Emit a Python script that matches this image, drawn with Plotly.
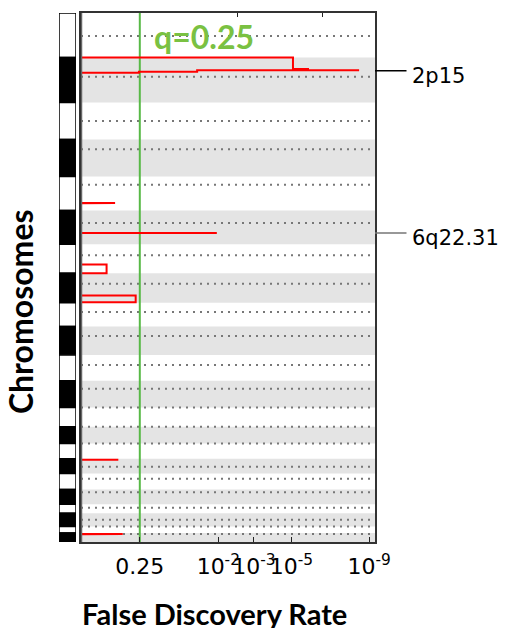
import plotly.graph_objects as go

# ---------------- data ----------------
chrom_names = [str(i) for i in range(1, 23)]
chrom_len_mb = [243, 244, 202, 201, 185, 185, 157, 161, 130, 154, 141, 145,
                105, 91, 83, 81, 87, 81, 49, 71, 36, 49]
centromere_mb = [125, 104, 101, 53, 46, 69, 60, 58, 51, 51, 55, 43,
                 0, 0, 0, 44, 29, 15, 19, 35, 0, 5]

# significance profile: chromosome, position inside chromosome (Mb), score
profile_chrom = [1,
                 2, 2, 2, 2, 2, 2, 2, 2, 2, 2, 2, 2,
                 5, 5, 5, 5,
                 6, 6, 6,
                 7, 7, 7, 7,
                 8, 8, 8, 8,
                 16, 16, 16,
                 22, 22, 22, 22, 22]
profile_pos = [0,
               0, 0, 61, 61.5, 62, 69, 69, 69.3, 77, 77.3, 82.5, 82.8,
               145, 145, 146, 146,
               123, 123.2, 123.4,
               110, 110, 157, 157,
               121, 121, 158, 158,
               5.5, 5.7, 5.9,
               5, 5, 7, 7, 49]
profile_score = [0,
                 0, 7.21, 7.21, 7.72, 7.72, 7.72, 9.46, 3.95, 3.95, 1.97, 1.97, 0,
                 0, 1.16, 1.16, 0,
                 0, 4.62, 0,
                 0, 0.87, 0.87, 0,
                 0, 1.86, 1.86, 0,
                 0, 1.27, 0,
                 0, 1.42, 1.42, 0, 0]

threshold_score = 2.0
threshold_label = "q=0.25"

tick_scores = [2.0, 4.67, 5.88, 7.16, 9.80]
tick_labels = ["0.25", "10<sup>-2</sup>", "10<sup>-3</sup>", "10<sup>-5</sup>", "10<sup>-9</sup>"]
top_tick_scores = [5.31, 8.20]

peak_labels = ["2p15", "6q22.31"]
peak_chrom = [2, 6]
peak_pos = [72, 123.2]
peak_line_colors = ["#000000", "#777777"]

score_max = 10

# ---------------- derived ----------------
starts = []
acc = 0
for L in chrom_len_mb:
    starts.append(acc)
    acc += L
total = acc

def gpos(c, p):
    return starts[c - 1] + p

fig = go.Figure()

# ideogram
fig.add_trace(go.Bar(
    x=[0.5] * len(chrom_names), y=chrom_len_mb, base=starts, width=1,
    marker=dict(color=["white" if i % 2 == 0 else "black" for i in range(len(chrom_names))],
                line=dict(color="black", width=1.5)),
    xaxis="x2", yaxis="y", hoverinfo="skip", showlegend=False))

# grey bands for even chromosomes
for i in range(len(chrom_names)):
    if i % 2 == 1:
        fig.add_shape(type="rect", xref="x", yref="y", x0=0, x1=score_max,
                      y0=starts[i], y1=starts[i] + chrom_len_mb[i],
                      fillcolor="#e4e4e4", line=dict(width=0), layer="below")

# centromere dotted lines
cx, cy = [], []
for i in range(len(chrom_names)):
    y = starts[i] + centromere_mb[i]
    cx += [0, score_max, None]
    cy += [y, y, None]
fig.add_trace(go.Scatter(x=cx, y=cy, mode="lines",
                         line=dict(color="#777777", width=2, dash="2px,5px"),
                         hoverinfo="skip", showlegend=False))

# threshold line
fig.add_trace(go.Scatter(x=[threshold_score, threshold_score], y=[0, total], mode="lines",
                         line=dict(color="#58b947", width=2),
                         hoverinfo="skip", showlegend=False))

# profile
py = [gpos(c, p) for c, p in zip(profile_chrom, profile_pos)]
fig.add_trace(go.Scatter(x=profile_score, y=py, mode="lines",
                         line=dict(color="#ff0000", width=2),
                         hoverinfo="skip", showlegend=False))

# zero baseline
fig.add_trace(go.Scatter(x=[0, 0], y=[0, total], mode="lines",
                         line=dict(color="#666666", width=2.5),
                         hoverinfo="skip", showlegend=False))

# dummy on top axis
fig.add_trace(go.Scatter(x=[0], y=[0], mode="none", xaxis="x3", yaxis="y",
                         hoverinfo="skip", showlegend=False))

annotations = []
# threshold label
annotations.append(dict(xref="x", x=2.42, yref="paper", y=0.955, xanchor="left", yanchor="middle",
                        text="<b>" + threshold_label + "</b>", showarrow=False,
                        font=dict(family="Lato", size=32, color="#7ac142")))
# axis titles
annotations.append(dict(xref="paper", x=0.492, yref="paper", y=-0.135, xanchor="center", yanchor="middle",
                        text="<b>False Discovery Rate</b>", showarrow=False,
                        font=dict(family="Lato", size=29, color="black")))
annotations.append(dict(xref="paper", x=-0.121, yref="paper", y=0.436, xanchor="center", yanchor="middle",
                        text="<b>Chromosomes</b>", showarrow=False, textangle=-90,
                        font=dict(family="Lato", size=32, color="black")))
# peak labels
for lab, c, p, col in zip(peak_labels, peak_chrom, peak_pos, peak_line_colors):
    y = gpos(c, p)
    annotations.append(dict(xref="paper", x=1, yref="y", y=y, text="", showarrow=True,
                            ax=33, ay=0, arrowhead=0, arrowwidth=1.5, arrowcolor=col))
    annotations.append(dict(xref="paper", x=1, yref="y", y=y, xshift=35, yshift=-5,
                            xanchor="left", yanchor="middle", text=lab, showarrow=False,
                            font=dict(family="DejaVu Sans", size=21, color="black")))

fig.update_layout(
    width=506, height=628,
    margin=dict(l=59, r=131, t=11, b=86),
    paper_bgcolor="white", plot_bgcolor="white", showlegend=False,
    annotations=annotations,
    xaxis=dict(domain=[22 / 316, 1], range=[0, score_max], anchor="y",
               showgrid=False, zeroline=False, showline=True, linecolor="#333333",
               linewidth=1.5, mirror=True, ticks="inside", ticklen=5, tickcolor="#222222",
               tickvals=tick_scores, ticktext=tick_labels, tickangle=0,
               tickfont=dict(family="DejaVu Sans", size=22, color="black"),
               ticklabelstandoff=4),
    xaxis2=dict(domain=[0, 17 / 316], range=[0, 1], anchor="y", visible=False),
    xaxis3=dict(overlaying="x", side="top", anchor="y", range=[0, score_max],
                tickvals=top_tick_scores, ticks="inside", ticklen=4, tickcolor="#222222",
                showticklabels=False, showgrid=False, zeroline=False, showline=False),
    yaxis=dict(range=[total, 0], showgrid=False, zeroline=False, showticklabels=False,
               ticks="", showline=True, linecolor="#333333", linewidth=1.5, mirror=True),
)

fig.write_html("out.html", config={"displayModeBar": False},
               post_script="document.body.style.margin='0px';document.body.style.overflow='hidden';")
